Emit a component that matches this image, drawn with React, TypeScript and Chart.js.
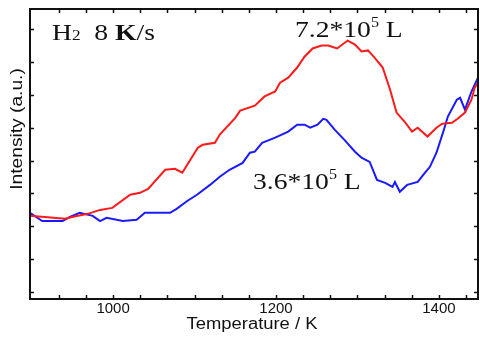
import React, { useEffect, useRef } from "react";
import { Chart, registerables } from "chart.js";

Chart.register(...registerables);

// Temperature (K) and intensity (a.u.)
const redT = [898, 941, 951, 969, 984, 999, 1021, 1033, 1043, 1064, 1076, 1085, 1104, 1110, 1125, 1131, 1150, 1156, 1174, 1186, 1199, 1205, 1215, 1226, 1235, 1245, 1256, 1264, 1275, 1288, 1297, 1305, 1313, 1321, 1331, 1340, 1348, 1358, 1367, 1374, 1386, 1397, 1404, 1416, 1423, 1432, 1440, 1444, 1448];
const redI = [3.32, 3.23, 3.29, 3.38, 3.5, 3.56, 3.96, 4.02, 4.14, 4.72, 4.75, 4.63, 5.39, 5.48, 5.54, 5.79, 6.3, 6.52, 6.67, 6.95, 7.1, 7.37, 7.52, 7.83, 8.16, 8.41, 8.5, 8.5, 8.41, 8.65, 8.53, 8.32, 8.35, 8.13, 7.83, 7.16, 6.46, 6.18, 5.88, 6.0, 5.73, 6.0, 6.12, 6.15, 6.27, 6.46, 6.85, 7.22, 7.37];

const blueT = [898, 913, 938, 947, 959, 975, 984, 992, 1012, 1029, 1039, 1070, 1078, 1091, 1103, 1119, 1131, 1143, 1159, 1168, 1174, 1183, 1199, 1215, 1226, 1235, 1242, 1251, 1258, 1262, 1272, 1284, 1297, 1305, 1315, 1324, 1334, 1343, 1346, 1352, 1361, 1374, 1383, 1389, 1397, 1405, 1411, 1422, 1426, 1432, 1440, 1448];
const blueI = [3.41, 3.16, 3.16, 3.29, 3.41, 3.32, 3.16, 3.26, 3.16, 3.2, 3.41, 3.41, 3.53, 3.77, 3.96, 4.26, 4.51, 4.72, 4.93, 5.24, 5.27, 5.54, 5.7, 5.88, 6.09, 6.09, 6.0, 6.09, 6.27, 6.24, 5.94, 5.63, 5.27, 5.09, 4.96, 4.41, 4.32, 4.2, 4.35, 4.05, 4.26, 4.35, 4.63, 4.81, 5.24, 5.85, 6.34, 6.85, 6.91, 6.55, 7.1, 7.52];

const xLabelTicks = [1000, 1200, 1400];
const xMinorTicks = [933.33, 966.67, 1000, 1033.33, 1066.67, 1100, 1133.33, 1166.67, 1200, 1233.33, 1266.67, 1300, 1333.33, 1366.67, 1400, 1433.33];
const yMinorTicks = [1, 2, 3, 4, 5, 6, 7, 8, 9];

const SERIF = '"Liberation Serif", "DejaVu Serif", serif';
const SANS = '"Liberation Sans", Arial, sans-serif';
const STRETCH = 1.15;

function drawRuns(ctx: CanvasRenderingContext2D, x: number, y: number, runs: { t: string; size: number; dy?: number; weight?: string }[]) {
  ctx.save();
  ctx.translate(x, y);
  ctx.scale(STRETCH, 1);
  let cx = 0;
  for (const r of runs) {
    ctx.font = `${r.weight || "normal"} ${r.size}px ${SERIF}`;
    ctx.fillText(r.t, cx, r.dy || 0);
    cx += ctx.measureText(r.t).width;
  }
  ctx.restore();
}

function drawLabel(ctx: CanvasRenderingContext2D, text: string, x: number, y: number, size: number, rot: number, stretch: number) {
  ctx.save();
  ctx.translate(x, y);
  ctx.rotate(rot);
  ctx.scale(stretch, 1);
  ctx.font = `${size}px ${SANS}`;
  ctx.textAlign = "center";
  ctx.textBaseline = "middle";
  ctx.fillText(text, 0, 0);
  ctx.restore();
}

const framePlugin = {
  id: "frame",
  afterDatasetsDraw(chart: any) {
    const { ctx, chartArea: a, scales } = chart;
    ctx.save();
    ctx.strokeStyle = "#111";
    ctx.lineWidth = 2;
    ctx.strokeRect(a.left, a.top, a.right - a.left, a.bottom - a.top);
    ctx.lineWidth = 1.5;
    const tl = 4;
    ctx.beginPath();
    for (const v of xMinorTicks) {
      const px = Math.round(scales.x.getPixelForValue(v)) + 0.5;
      ctx.moveTo(px, a.bottom);
      ctx.lineTo(px, a.bottom - tl);
      ctx.moveTo(px, a.top);
      ctx.lineTo(px, a.top + tl);
    }
    for (const v of yMinorTicks) {
      const py = Math.round(scales.y.getPixelForValue(v)) + 0.5;
      ctx.moveTo(a.left, py);
      ctx.lineTo(a.left + tl, py);
      ctx.moveTo(a.right, py);
      ctx.lineTo(a.right - tl, py);
    }
    ctx.stroke();

    ctx.fillStyle = "#111";
    // x tick labels
    for (const v of xLabelTicks) {
      drawLabel(ctx, String(v), scales.x.getPixelForValue(v), a.bottom + 10, 15, 0, 1);
    }
    // axis titles
    drawLabel(ctx, "Temperature / K", (a.left + a.right) / 2 - 2, a.bottom + 26, 16, 0, STRETCH);
    drawLabel(ctx, "Intensity (a.u.)", 18, 129, 16, -Math.PI / 2, 1.2);

    ctx.textAlign = "left";
    ctx.textBaseline = "alphabetic";
    drawRuns(ctx, 52, 40, [
      { t: "H", size: 24 },
      { t: "2", size: 15, dy: 0 },
      { t: "  8 ", size: 24 },
      { t: "K", size: 24, weight: "bold" },
      { t: "/s", size: 24 },
    ]);
    drawRuns(ctx, 295, 37, [
      { t: "7.2*10", size: 24 },
      { t: "5", size: 14, dy: -10 },
      { t: " L", size: 24 },
    ]);
    drawRuns(ctx, 253, 189, [
      { t: "3.6*10", size: 24 },
      { t: "5", size: 14, dy: -10 },
      { t: " L", size: 24 },
    ]);
    ctx.restore();
  },
};

export default function App() {
  const ref = useRef<HTMLCanvasElement>(null);
  useEffect(() => {
    if (!ref.current) return;
    const chart = new Chart(ref.current, {
      type: "line",
      data: {
        datasets: [
          {
            data: redT.map((t, i) => ({ x: t, y: redI[i] })),
            borderColor: "#ff1a1a",
            borderWidth: 2,
            pointRadius: 0,
            tension: 0,
          },
          {
            data: blueT.map((t, i) => ({ x: t, y: blueI[i] })),
            borderColor: "#1a1aff",
            borderWidth: 2,
            pointRadius: 0,
            tension: 0,
          },
        ],
      },
      options: {
        animation: false,
        responsive: false,
        layout: { padding: { top: 9, right: 2, left: 0, bottom: 0 } },
        plugins: { legend: { display: false }, tooltip: { enabled: false } },
        scales: {
          x: {
            type: "linear",
            min: 898,
            max: 1448,
            grid: { display: false },
            border: { display: false },
            ticks: { display: false },
            afterFit: (s: any) => {
              s.height = 39;
            },
          },
          y: {
            min: 0.79,
            max: 9.61,
            grid: { display: false },
            border: { display: false },
            ticks: { display: false },
            afterFit: (s: any) => {
              s.width = 30;
            },
          },
        },
      },
      plugins: [framePlugin],
    });
    return () => chart.destroy();
  }, []);
  return (
    <div style={{ position: "absolute", left: 0, top: 0, width: 480, height: 338, background: "#fff" }}>
      <canvas ref={ref} width={480} height={338} style={{ display: "block" }} />
    </div>
  );
}
